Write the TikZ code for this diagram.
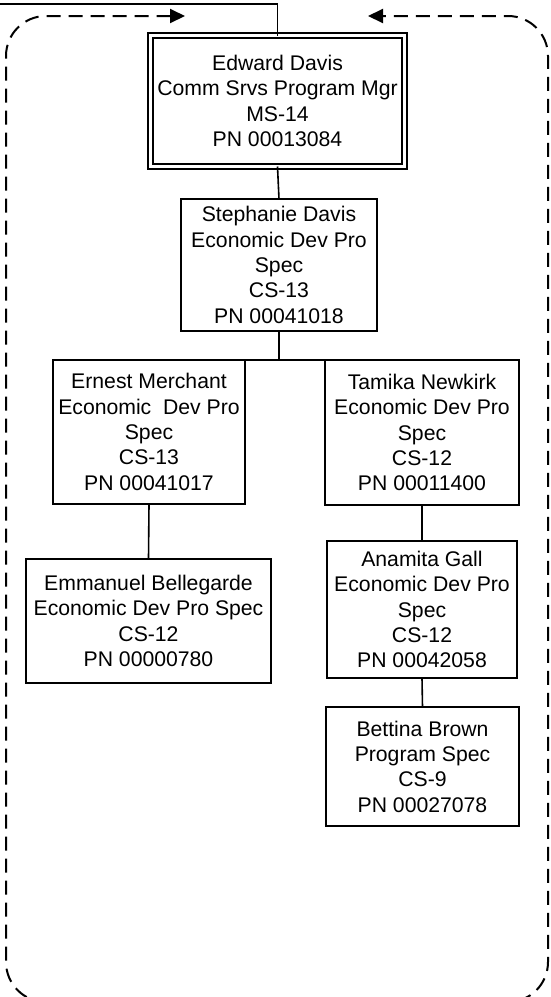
\documentclass[tikz,border=0pt]{standalone}
\usepackage{fontspec}
\setmainfont{Liberation Sans}
\usetikzlibrary{arrows.meta}
\begin{document}
\begin{tikzpicture}[x=1pt,y=-1pt,
  person/.style={draw, line width=2.2pt, align=center, inner sep=0pt, outer sep=0pt,
    font=\fontsize{21.2}{25.3}\selectfont},
  link/.style={line width=1.6pt},
  loopline/.style={line width=2pt, dash pattern=on 14pt off 8pt, rounded corners=40pt,
    {Triangle[length=15pt,width=14pt]}-{Triangle[length=15pt,width=14pt]}}
]
\useasboundingbox (0,0) rectangle (550,997);
\clip (0,0) rectangle (550,997);

\node[person, line width=1.4pt, double, double distance=3.6pt,
  minimum width=254pt, minimum height=131pt] (ed) at (277.5,101)
  {Edward Davis\\Comm Srvs Program Mgr\\MS-14\\PN 00013084};
\node[person, minimum width=196pt, minimum height=132pt] (st) at (279,265)
  {Stephanie Davis\\Economic Dev Pro\\Spec\\CS-13\\PN 00041018};
\node[person, minimum width=192pt, minimum height=144pt] (er) at (149,432)
  {Ernest Merchant\\Economic~ Dev Pro\\Spec\\CS-13\\PN 00041017};
\node[person, minimum width=194pt, minimum height=145pt] (ta) at (422,432.5)
  {Tamika Newkirk\\Economic Dev Pro\\Spec\\CS-12\\PN 00011400};
\node[person, minimum width=245pt, minimum height=124pt] (em) at (148.5,621)
  {Emmanuel Bellegarde\\Economic Dev Pro Spec\\CS-12\\PN 00000780};
\node[person, line width=1.6pt, minimum width=190pt, minimum height=137pt] (an) at (422,609.5)
  {Anamita Gall\\Economic Dev Pro\\Spec\\CS-12\\PN 00042058};
\node[person, minimum width=193pt, minimum height=119pt] (be) at (422.5,766.5)
  {Bettina Brown\\Program Spec\\CS-9\\PN 00027078};

\coordinate (topleft) at (0,4);
\coordinate (arrL) at (185,16);
\coordinate (arrR) at (368,16);

\draw[link] (topleft) -| (ed.north);
\draw[link] (ed.south) -- (st.north);
\draw[link] (st.south) -- (st.south |- er.north);
\draw[link] (er.north) -- (ta.north);
\draw[link] (er.south) -- (em.north);
\draw[link] (ta.south) -- (an.north);
\draw[link] (an.south) -- (be.north);

\draw[loopline] (arrL) -- (6,16) -- (6,1002) -- (548,1002) -- (548,16) -- (arrR);
\end{tikzpicture}
\end{document}
